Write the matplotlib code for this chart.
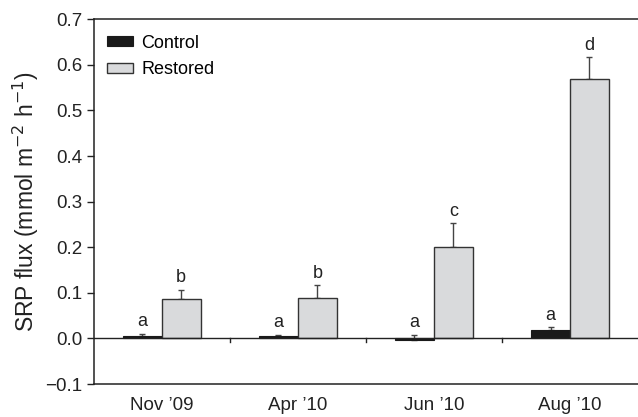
import numpy as np
import matplotlib.pyplot as plt

plt.rcParams['font.family'] = ['Liberation Sans', 'DejaVu Sans']

# data
months = ['Nov \u201909', 'Apr \u201910', 'Jun \u201910', 'Aug \u201910']
control = [0.006, 0.006, -0.004, 0.019]
control_se = [0.004, 0.002, 0.012, 0.006]
restored = [0.087, 0.088, 0.200, 0.569]
restored_se = [0.020, 0.029, 0.053, 0.047]
control_letters = ['a', 'a', 'a', 'a']
restored_letters = ['b', 'b', 'c', 'd']

fig = plt.figure(figsize=(6.38, 4.17), dpi=100)
ax = fig.add_axes([0.147, 0.079, 0.853, 0.875])

x = np.arange(len(months)) + 0.5
w = 0.286

ax.bar(x - w / 2, control, w, color='#1a1a1a', edgecolor='#1a1a1a',
       linewidth=0.8, label='Control', zorder=3)
ax.bar(x + w / 2, restored, w, color='#d9dadc', edgecolor='#333333',
       linewidth=1.0, label='Restored', zorder=3)

# upper error bars only
c_top = np.array(control) + np.array(control_se)
ax.errorbar(x - w / 2, control, yerr=[np.zeros(4), control_se],
            fmt='none', ecolor='#444444', elinewidth=1.0, capsize=2.5, zorder=2)
ax.errorbar(x + w / 2, restored, yerr=[np.zeros(4), restored_se],
            fmt='none', ecolor='#444444', elinewidth=1.0, capsize=2.5, zorder=2)

for xi, top, lab in zip(x - w / 2, c_top, control_letters):
    ax.annotate(lab, (xi, top), xytext=(0, 2.5), textcoords='offset points',
                ha='center', va='bottom', fontsize=13, color='#222222')
for xi, v, s, lab in zip(x + w / 2, restored, restored_se, restored_letters):
    ax.annotate(lab, (xi, v + s), xytext=(0, 2.5), textcoords='offset points',
                ha='center', va='bottom', fontsize=13, color='#222222')

# zero line with small separator ticks between groups
ax.axhline(0, color='#222222', linewidth=1.0, zorder=4)
for b in range(1, len(months)):
    ax.plot([b, b], [0, -0.008], color='#222222', linewidth=1.0, zorder=4)

yt = np.arange(-0.1, 0.71, 0.1)
ax.set_xlim(0, len(months))
ax.set_ylim(-0.1, 0.7)
ax.set_yticks(yt)
ax.set_yticklabels([f'{t:.1f}'.replace('-', '\u2212') for t in yt])
ax.set_xticks(x)
ax.set_xticklabels(months)
ax.tick_params(axis='x', length=0, pad=9, labelsize=13.5, colors='#222222')
ax.tick_params(axis='y', length=5, width=1.0, labelsize=13.5, colors='#222222', pad=3)

for side in ['left', 'top', 'bottom']:
    ax.spines[side].set_color('#222222')
    ax.spines[side].set_linewidth(1.1)
ax.spines['right'].set_visible(False)

ax.set_ylabel('SRP flux (mmol m$^{\u22122}$ h$^{\u22121}$)', fontsize=16.5,
              color='#222222', labelpad=3)

ax.legend(loc='upper left', bbox_to_anchor=(0.024, 0.958), frameon=False,
          fontsize=13, handlelength=1.45, handleheight=0.5, handletextpad=0.45,
          labelspacing=0.55, borderaxespad=0, borderpad=0)

fig.savefig('out.png', dpi=100)
